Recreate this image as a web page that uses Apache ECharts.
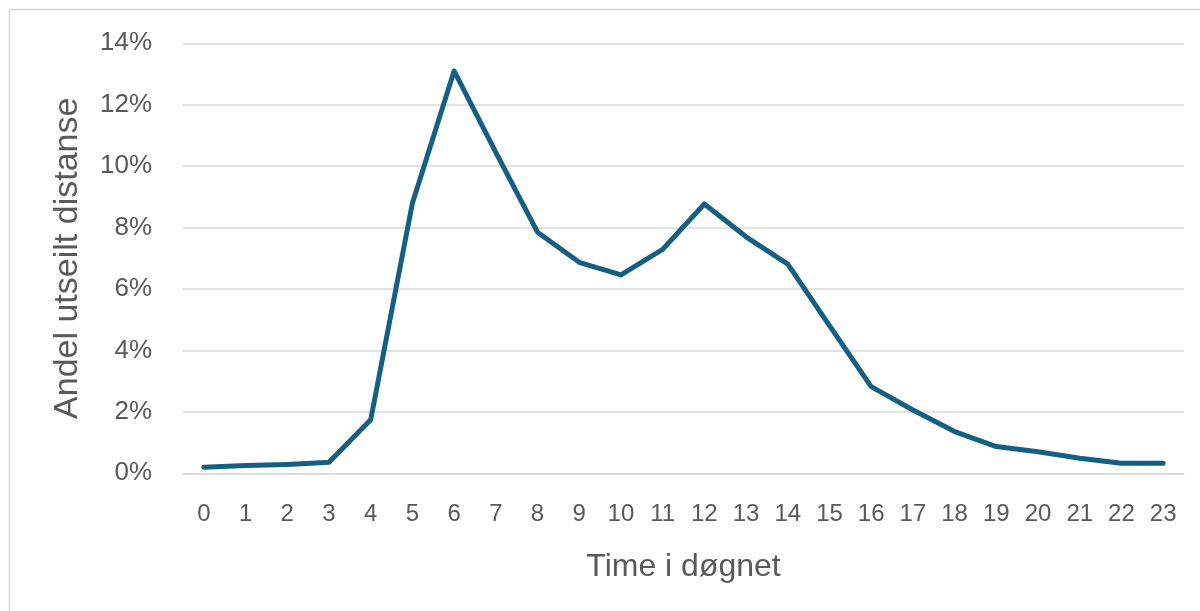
<!DOCTYPE html>
<html>
<head>
<meta charset="utf-8">
<script src="https://cdn.jsdelivr.net/npm/echarts@6/dist/echarts.min.js"></script>
<style>
  html, body { margin: 0; padding: 0; background: #fff; }
  #chart { width: 1200px; height: 611px; }
</style>
</head>
<body>
<div id="chart"></div>
<script>
// Hour of day (x axis categories)
const hours = ['0','1','2','3','4','5','6','7','8','9','10','11','12','13','14','15','16','17','18','19','20','21','22','23'];
// Share of distance sailed per hour, in percent
const share = [0.20, 0.25, 0.29, 0.36, 1.74, 8.79, 13.1, 10.45, 7.85, 6.87, 6.46, 7.29, 8.77, 7.70, 6.81, 4.81, 2.82, 2.06, 1.36, 0.87, 0.70, 0.49, 0.33, 0.33];
// Y axis range and step, in percent
const yMin = 0, yMax = 14, yStep = 2;

const textColor = '#595959';
const fontFamily = '"Liberation Sans", Arial, sans-serif';

const chart = echarts.init(document.getElementById('chart'), null, { renderer: 'canvas' });
chart.setOption({
  animation: false,
  backgroundColor: '#fff',
  // light frame around the chart area
  graphic: [{
    type: 'rect',
    shape: { x: 9.5, y: 9.5, width: 1200, height: 700 },
    style: { fill: 'none', stroke: '#d9d9d9', lineWidth: 1.5 },
    silent: true
  }],
  grid: { left: 183, right: 16, top: 43.3, bottom: 137.7, containLabel: false },
  xAxis: {
    type: 'category',
    data: hours,
    boundaryGap: true,
    axisLine: { show: true, lineStyle: { color: '#d9d9d9', width: 1.5 } },
    axisTick: { show: false },
    axisLabel: { color: textColor, fontSize: 24, fontFamily: fontFamily, margin: 29, interval: 0 },
    name: 'Time i døgnet',
    nameLocation: 'middle',
    nameGap: 78,
    nameTextStyle: { color: textColor, fontSize: 32, fontFamily: fontFamily }
  },
  yAxis: {
    type: 'value',
    min: yMin, max: yMax, interval: yStep,
    axisLine: { show: false },
    axisTick: { show: false },
    splitLine: { lineStyle: { color: '#d9d9d9', width: 1.5 } },
    axisLabel: { color: textColor, fontSize: 26, fontFamily: fontFamily, margin: 31, formatter: v => v + '%' },
    name: 'Andel utseilt distanse',
    nameLocation: 'middle',
    nameRotate: 90,
    nameGap: 98,
    nameTextStyle: { color: textColor, fontSize: 34, fontFamily: fontFamily }
  },
  series: [{
    type: 'line',
    data: share,
    symbol: 'none',
    lineStyle: { color: '#156082', width: 5, cap: 'round', join: 'round' }
  }]
});
</script>
</body>
</html>
